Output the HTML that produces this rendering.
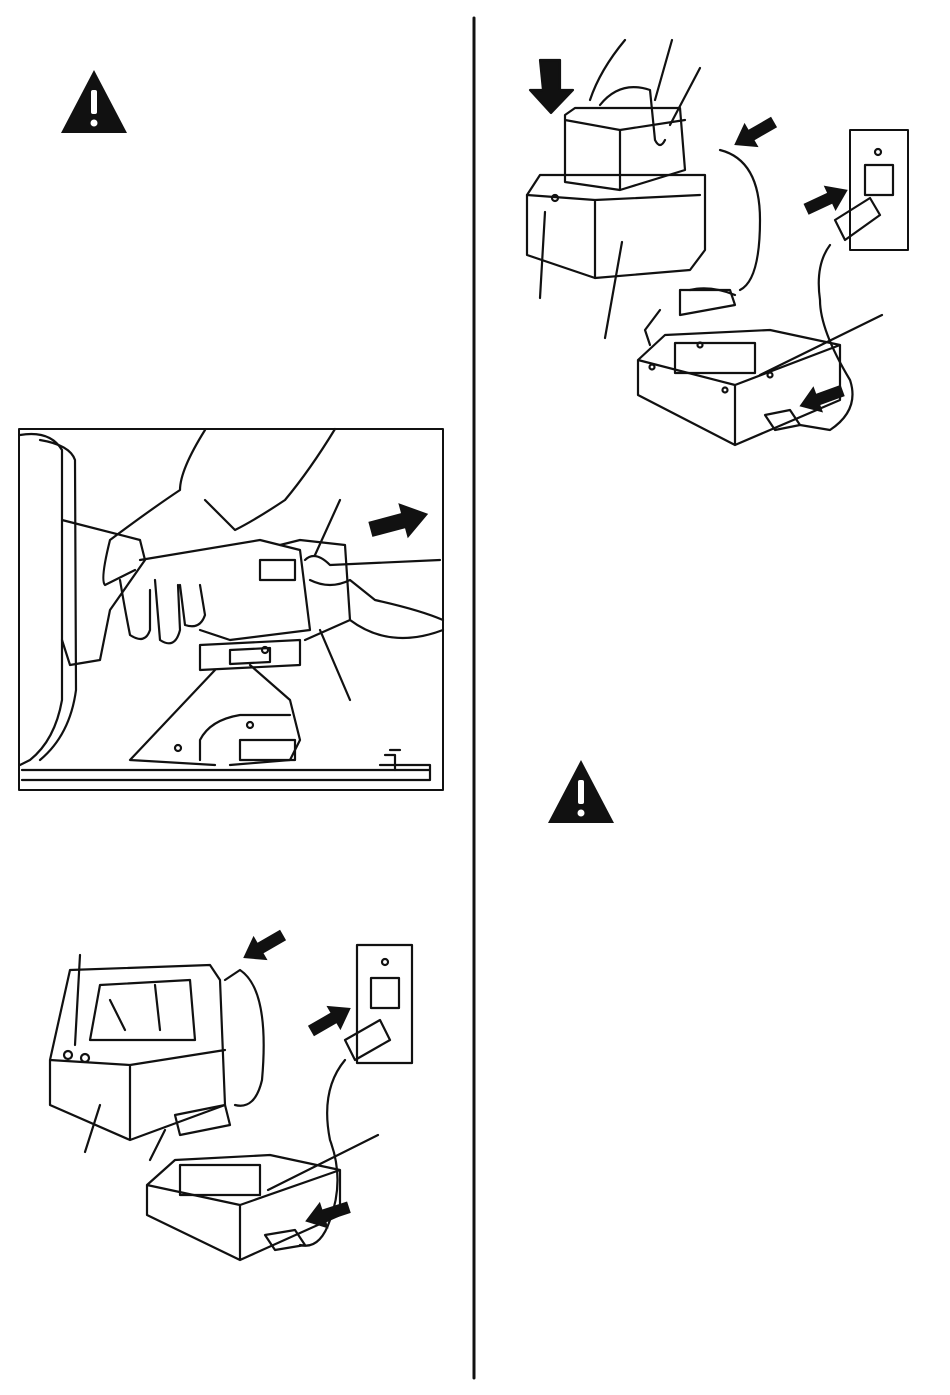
<!DOCTYPE html>
<html><head><meta charset="utf-8"><style>
html,body{margin:0;padding:0;background:#fff;width:950px;height:1395px;overflow:hidden}
</style></head><body>
<svg width="950" height="1395" viewBox="0 0 950 1395" xmlns="http://www.w3.org/2000/svg" fill="none" stroke="#111" stroke-width="2" stroke-linejoin="round" stroke-linecap="round">
<defs>
<path id="ar" d="M-22 -6 L4 -6 L4 -14 L24 0 L4 14 L4 6 L-22 6 Z" fill="#111" stroke="none"/>
</defs>
<line x1="474" y1="18" x2="474" y2="1378" stroke-width="3"/>
<g>
<path d="M94 70 L127 133 L61 133 Z" fill="#111" stroke="none"/>
<rect x="91" y="90" width="6" height="24" rx="2" fill="#fff" stroke="none"/>
<circle cx="94" cy="123" r="3.5" fill="#fff" stroke="none"/>
</g>
<g>
<path d="M581 760 L614 823 L548 823 Z" fill="#111" stroke="none"/>
<rect x="578" y="780" width="6" height="24" rx="2" fill="#fff" stroke="none"/>
<circle cx="581" cy="813" r="3.5" fill="#fff" stroke="none"/>
</g>
<rect x="19" y="429" width="424" height="361" stroke-width="2"/>
<g stroke-width="2.2">
<path d="M20 435 Q50 430 62 450 L62 700 Q55 740 30 760 L20 765"/>
<path d="M40 440 Q70 445 75 460 L76 690 Q70 735 40 760"/>
<path d="M62 520 L140 540 L145 560 L110 610 L100 660 L70 665 L62 640"/>
<path d="M140 560 L260 540 L300 550 L310 630 L230 640 L200 630"/>
<path d="M280 545 L300 540 L345 545 L350 620 L305 640"/>
<path d="M205 430 Q180 470 180 490 Q150 510 110 540 Q100 580 105 585 L135 570"/>
<path d="M335 429 Q310 470 285 500 Q255 520 235 530 L205 500"/>
<path d="M120 580 Q125 610 130 635 Q145 645 150 630 L150 590 M155 580 L160 640 Q175 650 180 630 L178 585 M180 585 L185 625 Q200 630 205 615 L200 585"/>
<path d="M305 560 Q315 550 330 565 L440 560 M310 580 Q330 590 350 580 L375 600 Q420 610 443 620 M350 620 Q390 650 443 630"/>
<rect x="260" y="560" width="35" height="20"/>
<path d="M200 645 L300 640 L300 665 L200 670 Z M230 650 L270 648 L270 662 L230 664 Z"/>
<path d="M215 670 L130 760 L215 765 M250 665 L290 700 L300 740 L290 760 L230 765 M200 760 L200 740 Q210 720 240 715 L290 715"/>
<path d="M22 770 L430 770 M22 780 L430 780 M380 765 L430 765 L430 780"/>
<path d="M385 755 L395 755 L395 770 M390 750 L400 750"/>
<circle cx="178" cy="748" r="3"/><circle cx="265" cy="650" r="3"/><circle cx="250" cy="725" r="3"/>
<rect x="240" y="740" width="55" height="20"/>
<line x1="315" y1="555" x2="340" y2="500"/>
<line x1="320" y1="630" x2="350" y2="700"/>
<use href="#ar" transform="translate(398,522) rotate(-15) scale(1.3)"/>
</g>
<g stroke-width="2.2">
<path d="M527 195 L540 175 L705 175 L705 250 L690 270 L595 278 L527 255 Z"/>
<path d="M527 195 L595 200 L700 195 M595 200 L595 278"/>
<path d="M565 115 L575 108 L680 108 L685 170 L620 190 L565 182 Z M565 120 L620 130 L685 120 M620 130 L620 190"/>
<path d="M590 100 Q600 70 625 40 M655 100 L672 40 M600 105 Q620 80 650 90 L655 140 Q660 150 665 140"/>
<path d="M720 150 Q760 160 760 220 Q760 280 740 290 M690 290 Q710 285 735 295"/>
<path d="M680 290 L730 290 L735 305 L680 315 Z M660 310 L645 330 L650 345"/>
<rect x="850" y="130" width="58" height="120" stroke-width="2"/>
<rect x="865" y="165" width="28" height="30"/>
<circle cx="878" cy="152" r="3"/>
<path d="M835 220 L870 198 L880 215 L845 240 Z M830 245 Q815 265 820 300 Q820 330 850 380 Q860 410 830 430 L800 425"/>
<path d="M638 360 L665 335 L770 330 L840 345 L840 400 L735 445 L638 395 Z M638 360 L735 385 L840 345 M735 385 L735 445"/>
<rect x="675" y="343" width="80" height="30"/>
<circle cx="652" cy="367" r="2.5"/><circle cx="725" cy="390" r="2.5"/><circle cx="770" cy="375" r="2.5"/><circle cx="700" cy="345" r="2.5"/>
<path d="M765 415 L790 410 L800 425 L775 430 Z"/>
<line x1="545" y1="212" x2="540" y2="298"/><line x1="622" y1="242" x2="605" y2="338"/>
<line x1="670" y1="125" x2="700" y2="68"/><line x1="760" y1="375" x2="882" y2="315"/>
<path d="M540 60 L560 60 L560 90 L573 90 L551 113 L530 90 L543 90 Z" fill="#111"/>
<circle cx="555" cy="198" r="3"/>
<use href="#ar" transform="translate(755,133) rotate(150)"/>
<use href="#ar" transform="translate(826,200) rotate(-25)"/>
<use href="#ar" transform="translate(822,398) rotate(160)"/>
</g>
<g stroke-width="2.2">
<path d="M50 1060 L70 970 L210 965 L220 980 L225 1105 L130 1140 L50 1105 Z M50 1060 L130 1065 L225 1050 M130 1065 L130 1140"/>
<path d="M90 1040 L100 985 L190 980 L195 1040 Z M110 1000 L125 1030 M155 985 L160 1030"/>
<circle cx="68" cy="1055" r="4"/><circle cx="85" cy="1058" r="4"/>
<line x1="80" y1="955" x2="75" y2="1045"/><line x1="100" y1="1105" x2="85" y2="1152"/>
<path d="M225 980 L240 970 Q270 990 262 1080 Q255 1110 235 1105 M175 1115 L225 1105 L230 1125 L180 1135 Z M165 1130 L150 1160"/>
<path d="M147 1185 L175 1160 L270 1155 L340 1170 L340 1215 L240 1260 L147 1215 Z M147 1185 L240 1205 L340 1170 M240 1205 L240 1260"/>
<rect x="180" y="1165" width="80" height="30"/>
<rect x="357" y="945" width="55" height="118"/>
<rect x="371" y="978" width="28" height="30"/><circle cx="385" cy="962" r="3"/>
<path d="M345 1040 L380 1020 L390 1040 L355 1060 Z M345 1060 Q320 1090 330 1140 Q345 1180 330 1220 Q320 1250 300 1245"/>
<path d="M265 1235 L295 1230 L305 1245 L275 1250 Z"/>
<line x1="268" y1="1190" x2="378" y2="1135"/>
<use href="#ar" transform="translate(264,946) rotate(150)"/>
<use href="#ar" transform="translate(330,1020) rotate(-30)"/>
<use href="#ar" transform="translate(328,1214) rotate(162)"/>
</g>
</svg>
</body></html>
